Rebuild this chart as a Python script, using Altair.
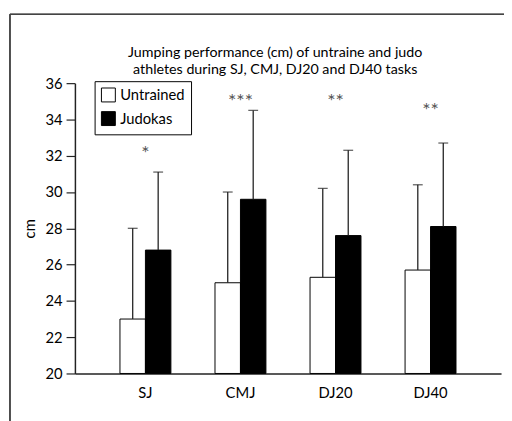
import altair as alt
import pandas as pd

tasks = ["SJ", "CMJ", "DJ20", "DJ40"]
groups = ["Untrained", "Judokas"]
untrained_mean = [23.0, 25.0, 25.3, 25.7]
untrained_top = [28.0, 30.0, 30.2, 30.4]
judokas_mean = [26.8, 29.6, 27.6, 28.1]
judokas_top = [31.1, 34.5, 32.3, 32.7]
stars = ["*", "***", "**", "**"]
star_y = [32.4, 35.3, 35.3, 34.8]
y_ticks = [20, 22, 24, 26, 28, 30, 32, 34, 36]

FONT = "Lato"

rows = []
for i, t in enumerate(tasks):
    rows.append({"task": t, "group": "Untrained", "mean": untrained_mean[i], "top": untrained_top[i], "base": 20})
    rows.append({"task": t, "group": "Judokas", "mean": judokas_mean[i], "top": judokas_top[i], "base": 20})
df = pd.DataFrame(rows)
sig = pd.DataFrame({"task": tasks, "star": stars, "y": star_y})

xscale = alt.Scale(domain=tasks, paddingInner=0.464, paddingOuter=0.474)
yscale = alt.Scale(domain=[20, 36], nice=False, zero=False)
off = alt.XOffset("group:N", sort=groups, scale=alt.Scale(domain=groups, paddingInner=0, paddingOuter=0))

x_axis = alt.Axis(title=None, labelAngle=0, ticks=False, labelFontSize=15,
                  labelPadding=12, labelFont=FONT, labelColor="black",
                  domainColor="#222", domainWidth=1.5)
y_axis = alt.Axis(title="cm", values=y_ticks, tickCount=9, tickSize=9,
                  labelFontSize=15, labelFont=FONT, labelColor="black",
                  labelPadding=4, labelOverlap=False, tickColor="#222",
                  domainColor="#222", domainWidth=1.5, tickWidth=1.2, grid=False,
                  titleFont=FONT, titleFontSize=15, titleFontWeight="normal",
                  titleColor="black", titlePadding=8)

def X():
    return alt.X("task:N", sort=tasks, scale=xscale, axis=x_axis)

def Y(field):
    return alt.Y(field, scale=yscale, axis=y_axis, title="cm")

bars = alt.Chart(df).mark_bar(stroke="black", strokeWidth=1).encode(
    x=X(),
    xOffset=off,
    y=Y("mean:Q"),
    y2="base:Q",
    fill=alt.Fill("group:N", sort=groups,
                  scale=alt.Scale(domain=groups, range=["white", "black"]),
                  legend=alt.Legend(title=None, orient="none", legendX=20, legendY=-2,
                                    strokeColor="black", padding=6, rowPadding=4,
                                    symbolType="square", symbolSize=200,
                                    symbolStrokeColor="black", symbolStrokeWidth=1,
                                    labelFontSize=15, labelFont=FONT, labelColor="black",
                                    labelOffset=4)),
)

err = alt.Chart(df).mark_rule(color="#222", strokeWidth=1.3).encode(
    x=X(),
    xOffset=off,
    y=Y("mean:Q"),
    y2="top:Q",
)

caps = alt.Chart(df).mark_tick(color="#222", thickness=1.3, size=10, orient="horizontal").encode(
    x=X(),
    xOffset=off,
    y=Y("top:Q"),
)

txt = alt.Chart(sig).mark_text(fontSize=20, font=FONT, color="#555", baseline="middle", dy=6).encode(
    x=X(),
    y=Y("y:Q"),
    text="star:N",
)

frame_top = alt.Chart(sig).mark_rule(color="#444", strokeWidth=1).encode(
    x=alt.value(-66), x2=alt.value(440), y=alt.value(-70))
frame_left = alt.Chart(sig).mark_rule(color="#444", strokeWidth=1).encode(
    x=alt.value(-66), y=alt.value(-70), y2=alt.value(345))

chart = alt.layer(frame_top, frame_left, bars, err, caps, txt).properties(
    width=433, height=295,
    autosize=alt.AutoSizeParams(type="none"),
    padding={"left": 68, "top": 73, "right": 3, "bottom": 50},
    title=alt.TitleParams(
        ["Jumping performance (cm) of untraine and judo",
         "athletes during SJ, CMJ, DJ20 and DJ40 tasks"],
        font=FONT, fontSize=14.5, fontWeight="normal", color="black",
        anchor="middle", dx=-13, lineHeight=18, offset=0, dy=65),
).configure_view(stroke=None)

chart.save("out.html", embed_options={"renderer": "svg", "actions": False})
